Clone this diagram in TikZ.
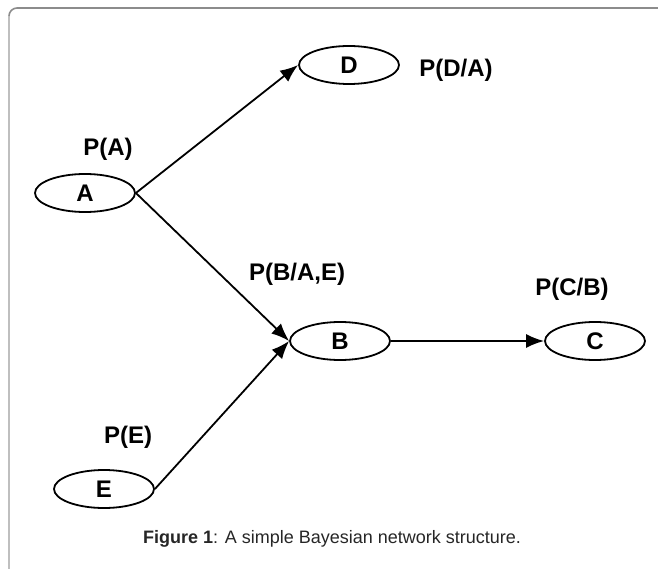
\documentclass[tikz,border=0pt]{standalone}
\usepackage{fontspec}
\setmainfont{Liberation Sans}
\usetikzlibrary{shapes.geometric,arrows.meta}
\begin{document}
\begin{tikzpicture}[x=1pt,y=-1pt,
  bnode/.style={ellipse,draw,line width=1.8pt,minimum width=100pt,minimum height=38pt,inner sep=0pt,font=\fontsize{24}{28}\selectfont\bfseries},
  plabel/.style={font=\fontsize{24}{28}\selectfont\bfseries,inner sep=0pt},
  edge/.style={line width=1.8pt,-{Latex[length=18pt,width=14pt]}},
  framea/.style={line width=1.6pt,draw=black!45},
  frameb/.style={line width=1.6pt,draw=black!25}]
\useasboundingbox (0,0) rectangle (658,569);
\draw[frameb] (9,569) -- (9,16);
\draw[framea] (9,16) to[out=90,in=180] (17,8) -- (658,8);
\node[bnode] (A) at (85,193) {A};
\node[bnode] (D) at (349,65) {D};
\node[bnode] (B) at (340,341) {B};
\node[bnode] (C) at (595,341) {C};
\node[bnode] (E) at (104,489) {E};
\node[plabel] (pA) at (108,149) {P(A)};
\node[plabel] (pD) at (456,70) {P(D/A)};
\node[plabel] (pB) at (297,274) {P(B/A,E)};
\node[plabel] (pC) at (572,289) {P(C/B)};
\node[plabel] (pE) at (128,437) {P(E)};
\draw[edge] (A.east) -- (D.west);
\draw[edge] (A.east) -- (B.west);
\draw[edge] (E.east) -- (B.west);
\draw[edge] (B.east) -- (C.west);
\node[font=\fontsize{18}{22}\selectfont,text=black!85,inner sep=0pt] (cap) at (332,539) {\textbf{Figure 1}: A simple Bayesian network structure.};
\end{tikzpicture}
\end{document}
